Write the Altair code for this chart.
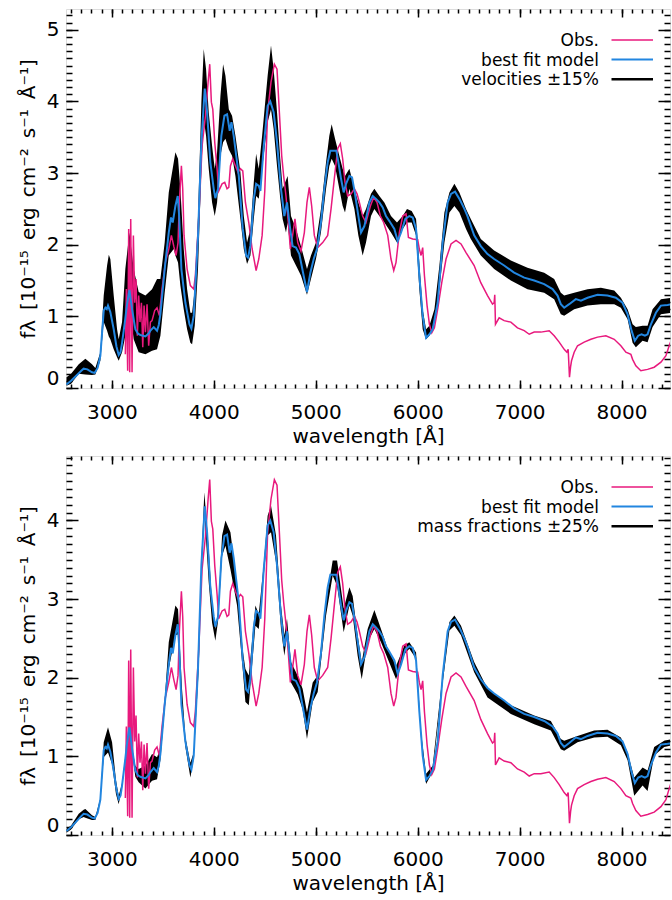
import altair as alt
import pandas as pd

FONT = "DejaVu Sans"
PINK = "#e8197d"
BLUE = "#2286e0"

# ---------------- data ----------------
MODEL_WL = [2555, 2600, 2650, 2700, 2723, 2760, 2805, 2831, 2860, 2887, 2920, 2936, 2950, 2962, 2985,
            3018, 3045, 3067, 3085, 3100, 3130, 3149, 3172, 3198, 3230, 3255, 3280, 3329, 3360, 3378,
            3411, 3443, 3460, 3476, 3518, 3558, 3580, 3597, 3623, 3646, 3660, 3682, 3721, 3761, 3780,
            3803, 3845, 3878, 3911, 3934, 3966, 3999, 4015, 4042, 4074, 4104, 4130, 4156, 4173, 4195,
            4245, 4284, 4317, 4336, 4359, 4392, 4415, 4441, 4457, 4490, 4528, 4554, 4587, 4620, 4659,
            4692, 4718, 4741, 4773, 4806, 4839, 4881, 4914, 4947, 4980, 5012, 5051, 5084, 5117, 5143,
            5176, 5202, 5222, 5248, 5274, 5297, 5330, 5356, 5385, 5418, 5444, 5477, 5526, 5559, 5591,
            5624, 5657, 5689, 5722, 5771, 5804, 5837, 5879, 5918, 5951, 5984, 6016, 6049, 6082, 6115,
            6147, 6196, 6245, 6294, 6327, 6366, 6409, 6458, 6488, 6554, 6619, 6685, 6750, 6848, 6946,
            7045, 7143, 7241, 7323, 7372, 7404, 7437, 7486, 7551, 7601, 7666, 7764, 7862, 7944, 8009,
            8059, 8098, 8130, 8163, 8196, 8229, 8255, 8288, 8337, 8386, 8451, 8500]
MODEL_F = [0.05, 0.10, 0.17, 0.24, 0.27, 0.26, 0.22, 0.21, 0.28, 0.45, 1.08, 1.12, 1.10, 1.15, 1.06,
           0.82, 0.58, 0.46, 0.50, 0.63, 0.95, 1.17, 1.37, 1.10, 0.82, 0.76, 0.74, 0.72, 0.76, 0.80,
           0.85, 0.80, 0.88, 1.03, 1.66, 2.17, 2.38, 2.31, 2.54, 2.68, 2.40, 1.66, 1.19, 0.89, 0.83,
           1.01, 2.12, 3.43, 4.18, 3.85, 3.15, 2.78, 2.65, 2.78, 3.52, 3.80, 3.82, 3.59, 3.71, 3.52,
           2.96, 2.22, 1.85, 1.82, 1.99, 2.64, 2.85, 2.82, 2.75, 3.38, 3.94, 4.00, 3.85, 3.43, 2.78,
           2.40, 2.59, 2.31, 1.98, 1.96, 1.87, 1.57, 1.34, 1.61, 1.80, 1.94, 2.31, 2.78, 3.15, 3.31,
           3.31, 3.31, 3.15, 2.92, 2.73, 2.85, 2.96, 2.94, 2.71, 2.40, 2.17, 2.26, 2.59, 2.68, 2.64,
           2.59, 2.52, 2.40, 2.33, 2.22, 2.05, 2.17, 2.36, 2.40, 2.38, 2.22, 1.57, 1.01, 0.70, 0.75,
           0.82, 1.19, 2.03, 2.59, 2.71, 2.74, 2.64, 2.50, 2.40, 2.13, 1.98, 1.87, 1.80, 1.71, 1.61,
           1.54, 1.50, 1.45, 1.38, 1.29, 1.17, 1.12, 1.17, 1.24, 1.22, 1.26, 1.30, 1.29, 1.26, 1.19,
           1.03, 0.80, 0.66, 0.73, 0.75, 0.73, 0.75, 0.89, 1.05, 1.15, 1.16, 1.17]

OBS_WL = [3132, 3142, 3155, 3165, 3175, 3185, 3198, 3211, 3224, 3237, 3250, 3263, 3276, 3290, 3303,
          3316, 3329, 3345, 3361, 3378, 3394, 3420, 3443, 3466, 3492, 3525, 3558, 3584, 3607, 3630,
          3649, 3662, 3682, 3695, 3708, 3738, 3770, 3803, 3819, 3852, 3885, 3918, 3944, 3960, 3976,
          3990, 4009, 4032, 4048, 4081, 4107, 4130, 4147, 4163, 4186, 4212, 4238, 4261, 4284, 4310,
          4343, 4376, 4415, 4441, 4474, 4500, 4528, 4561, 4594, 4620, 4643, 4666, 4685, 4708, 4731,
          4751, 4773, 4796, 4823, 4855, 4888, 4914, 4937, 4960, 4986, 5019, 5068, 5117, 5150, 5182,
          5215, 5241, 5264, 5287, 5313, 5346, 5379, 5405, 5428, 5460, 5493, 5536, 5568, 5601, 5634,
          5666, 5706, 5738, 5765, 5787, 5820, 5853, 5886, 5909, 5951, 6000, 6016, 6033, 6049, 6066,
          6092, 6115, 6138, 6164, 6196, 6236, 6278, 6327, 6376, 6425, 6474, 6554, 6619, 6685, 6734,
          6750, 6756, 6763, 6799, 6848, 6914, 6979, 7045, 7094, 7143, 7208, 7290, 7339, 7388, 7437,
          7463, 7476, 7489, 7500, 7509, 7535, 7568, 7633, 7699, 7764, 7846, 7928, 7993, 8042, 8091,
          8108, 8140, 8189, 8255, 8320, 8386, 8435, 8467, 8500]
OBS_F = [0.47, 1.38, 0.24, 2.22, 0.22, 2.36, 0.22, 2.13, 1.19, 1.52, 0.73, 1.29, 0.92, 1.19, 0.57,
         1.15, 0.78, 1.17, 0.59, 0.92, 0.94, 1.08, 1.12, 1.01, 1.38, 1.75, 1.94, 2.13, 1.98, 1.85,
         2.03, 2.59, 3.10, 2.78, 2.13, 1.66, 1.43, 1.38, 1.57, 2.36, 3.38, 3.80, 4.27, 4.52, 3.99,
         3.89, 3.43, 3.06, 2.75, 2.85, 2.87, 2.78, 2.80, 3.10, 3.20, 3.10, 3.01, 3.06, 3.03, 2.59,
         2.31, 1.94, 1.64, 1.80, 2.13, 2.75, 3.85, 4.27, 4.52, 4.45, 3.85, 3.24, 2.96, 2.68, 2.31,
         1.94, 2.13, 2.36, 2.03, 1.91, 2.17, 2.59, 2.80, 2.54, 2.13, 1.96, 2.03, 2.13, 2.50, 2.92,
         3.34, 3.41, 3.20, 2.87, 2.68, 2.71, 2.78, 2.71, 2.59, 2.40, 2.31, 2.54, 2.66, 2.59, 2.40,
         2.31, 2.13, 1.80, 1.64, 1.75, 2.17, 2.40, 2.43, 2.10, 2.08, 2.07, 1.94, 1.85, 1.96, 1.57,
         1.15, 0.89, 0.77, 0.84, 1.10, 1.47, 1.80, 2.01, 2.06, 2.01, 1.89, 1.71, 1.47, 1.29, 1.17,
         1.19, 1.30, 0.89, 0.98, 0.94, 0.92, 0.84, 0.80, 0.75, 0.78, 0.78, 0.80, 0.73, 0.64, 0.54,
         0.50, 0.54, 0.15, 0.30, 0.38, 0.50, 0.59, 0.64, 0.68, 0.71, 0.73, 0.68, 0.59, 0.50, 0.47,
         0.40, 0.31, 0.24, 0.26, 0.29, 0.36, 0.45, 0.59, 0.72]

# envelope: velocities +-15%
VEL_WL = [2555, 2600, 2675, 2740, 2805, 2838, 2887, 2920, 2953, 2970, 2985, 3018, 3051, 3067, 3100,
          3132, 3172, 3214, 3263, 3329, 3394, 3443, 3476, 3518, 3558, 3607, 3623, 3649, 3672, 3705,
          3738, 3770, 3787, 3813, 3845, 3878, 3901, 3924, 3950, 3983, 4009, 4032, 4065, 4091, 4114,
          4147, 4179, 4212, 4261, 4294, 4326, 4359, 4392, 4415, 4441, 4474, 4528, 4561, 4587, 4620,
          4652, 4675, 4708, 4724, 4757, 4806, 4855, 4914, 4953, 5002, 5051, 5101, 5133, 5156, 5189,
          5231, 5264, 5287, 5330, 5379, 5418, 5460, 5493, 5542, 5575, 5624, 5673, 5738, 5797, 5853,
          5895, 5941, 5984, 6016, 6049, 6082, 6115, 6164, 6213, 6262, 6311, 6360, 6409, 6474, 6521,
          6619, 6750, 6914, 7077, 7241, 7339, 7404, 7437, 7535, 7666, 7797, 7928, 7993, 8059, 8108,
          8140, 8206, 8255, 8304, 8386, 8500]
VEL_HI = [0.15, 0.20, 0.33, 0.41, 0.33, 0.28, 0.50, 1.29, 1.71, 1.86, 1.80, 1.29, 0.82, 0.68, 0.92,
          1.66, 2.17, 1.66, 1.34, 1.29, 1.38, 1.52, 1.52, 2.03, 2.73, 3.15, 3.29, 3.20, 2.78, 1.94,
          1.38, 1.05, 1.05, 1.38, 2.40, 3.99, 4.73, 4.45, 3.85, 3.38, 3.06, 3.29, 4.08, 4.52, 4.36,
          3.89, 3.80, 3.52, 3.01, 2.40, 2.03, 2.22, 2.87, 3.27, 3.06, 3.52, 4.36, 4.78, 4.45, 3.85,
          3.20, 2.78, 2.90, 2.96, 2.40, 2.22, 1.98, 1.66, 1.85, 2.03, 2.50, 3.15, 3.52, 3.68, 3.48,
          3.24, 3.06, 2.96, 3.06, 2.78, 2.59, 2.40, 2.50, 2.71, 2.78, 2.68, 2.59, 2.40, 2.31, 2.40,
          2.50, 2.47, 2.36, 1.75, 1.10, 0.82, 0.87, 1.10, 1.71, 2.45, 2.73, 2.85, 2.73, 2.50, 2.36,
          2.08, 1.92, 1.78, 1.68, 1.61, 1.52, 1.33, 1.29, 1.33, 1.38, 1.40, 1.36, 1.26, 1.10, 0.89,
          0.85, 0.87, 0.87, 1.10, 1.24, 1.26]
VEL_LO = [0.03, 0.06, 0.20, 0.19, 0.18, 0.19, 0.38, 0.92, 0.80, 0.72, 0.68, 0.54, 0.43, 0.38, 0.50,
          0.73, 1.15, 0.68, 0.50, 0.47, 0.52, 0.54, 0.73, 1.33, 1.85, 1.94, 1.85, 1.75, 1.43, 1.10,
          0.82, 0.63, 0.61, 0.87, 1.66, 3.06, 3.75, 3.52, 3.06, 2.59, 2.40, 2.59, 3.24, 3.43, 3.48,
          3.33, 3.24, 2.96, 2.36, 1.94, 1.73, 1.85, 2.36, 2.68, 2.64, 3.06, 3.71, 3.89, 3.62, 3.10,
          2.64, 2.36, 2.17, 2.31, 1.85, 1.71, 1.57, 1.30, 1.52, 1.80, 2.17, 2.78, 3.10, 3.20, 3.10,
          2.78, 2.54, 2.45, 2.78, 2.50, 2.13, 1.85, 2.03, 2.40, 2.50, 2.40, 2.31, 2.17, 2.03, 2.22,
          2.31, 2.31, 2.13, 1.38, 0.82, 0.68, 0.73, 0.92, 1.38, 2.03, 2.45, 2.54, 2.45, 2.22, 2.08,
          1.85, 1.66, 1.50, 1.38, 1.33, 1.24, 1.03, 1.01, 1.10, 1.15, 1.17, 1.17, 1.12, 0.96, 0.63,
          0.57, 0.66, 0.64, 0.85, 1.03, 1.05]

# envelope: mass fractions +-25%
MASS_WL = [2555, 2600, 2675, 2723, 2740, 2805, 2838, 2887, 2920, 2962, 3002, 3040, 3067, 3100, 3149,
           3172, 3198, 3230, 3263, 3329, 3394, 3443, 3476, 3518, 3558, 3623, 3649, 3688, 3721, 3770,
           3803, 3852, 3878, 3907, 3950, 3983, 4015, 4042, 4081, 4114, 4163, 4228, 4284, 4310, 4343,
           4408, 4441, 4490, 4528, 4561, 4610, 4659, 4692, 4718, 4757, 4822, 4871, 4914, 4970, 5019,
           5101, 5166, 5209, 5274, 5330, 5362, 5411, 5451, 5509, 5575, 5640, 5706, 5788, 5869, 5918,
           5984, 6033, 6082, 6147, 6229, 6311, 6360, 6425, 6554, 6685, 6914, 7143, 7306, 7404, 7437,
           7568, 7731, 7862, 7993, 8059, 8124, 8206, 8255, 8320, 8418, 8500]
MASS_HI = [0.08, 0.12, 0.27, 0.32, 0.33, 0.25, 0.23, 0.47, 1.18, 1.37, 1.18, 0.70, 0.50, 0.66, 1.19,
           1.39, 1.12, 0.88, 0.84, 0.88, 1.03, 0.99, 1.10, 1.72, 2.45, 2.92, 2.87, 1.86, 1.25, 0.92,
           1.05, 2.28, 3.50, 4.36, 3.64, 2.95, 2.62, 2.85, 3.81, 4.00, 3.85, 3.17, 2.35, 2.11, 2.03,
           2.92, 2.81, 3.45, 4.06, 4.19, 3.81, 2.92, 2.54, 2.75, 2.20, 2.03, 1.86, 1.56, 1.94, 2.03,
           2.96, 3.49, 3.49, 2.88, 3.15, 3.04, 2.54, 2.20, 2.62, 2.86, 2.62, 2.37, 2.15, 2.41, 2.45,
           2.32, 1.31, 0.78, 0.88, 1.86, 2.71, 2.79, 2.66, 2.20, 1.86, 1.65, 1.52, 1.45, 1.22, 1.20,
           1.26, 1.33, 1.34, 1.24, 1.05, 0.73, 0.86, 0.82, 1.12, 1.20, 1.22]
MASS_LO = [0.03, 0.07, 0.20, 0.23, 0.22, 0.19, 0.19, 0.43, 0.99, 1.05, 0.90, 0.52, 0.39, 0.60, 1.15,
           1.35, 1.06, 0.74, 0.67, 0.59, 0.69, 0.71, 0.95, 1.60, 2.11, 2.54, 2.55, 1.56, 1.12, 0.73,
           0.97, 2.11, 3.35, 4.10, 3.21, 2.70, 2.47, 2.72, 3.55, 3.68, 3.38, 2.92, 2.10, 1.69, 1.65,
           2.66, 2.62, 3.30, 3.81, 3.85, 3.47, 2.62, 2.28, 2.54, 1.94, 1.79, 1.60, 1.22, 1.69, 1.82,
           2.79, 3.30, 3.17, 2.58, 2.92, 2.79, 2.28, 1.98, 2.45, 2.62, 2.45, 2.24, 1.98, 2.30, 2.37,
           2.24, 1.22, 0.65, 0.80, 1.77, 2.60, 2.66, 2.54, 2.07, 1.75, 1.54, 1.41, 1.33, 1.09, 1.07,
           1.18, 1.24, 1.25, 1.14, 0.95, 0.50, 0.63, 0.56, 1.01, 1.12, 1.14]

X_MAJOR = [3000, 4000, 5000, 6000, 7000, 8000]
X_MINOR = list(range(2600, 8500, 100))
LEGEND_TOP = ["Obs.", "best fit model", "velocities \u00b115%"]
LEGEND_BOTTOM = ["Obs.", "best fit model", "mass fractions \u00b125%"]
LEGEND_COLORS = [PINK, BLUE, "black"]
LEGEND_WIDTHS = [1.5, 2, 2.5]

Y_TITLE = "f\u03bb\u2002[10\u207b\u00b9\u2075\u2002erg\u2002cm\u207b\u00b2\u2002s\u207b\u00b9\u2002\u00c5\u207b\u00b9]"

XDOM = [2550, 8475]
W = 604
H = 379


def xaxis(orient, values, size, labels=False, title=None):
    kw = dict(orient=orient, values=values, tickSize=size, offset=-size, labels=labels,
              domain=False, grid=False, title=title, tickColor="black", tickWidth=1.5)
    if labels:
        kw.update(format="d", labelPadding=14, titlePadding=4, labelFont=FONT, labelFontSize=20,
                  titleFont=FONT, titleFontSize=20, titleFontWeight="normal",
                  labelColor="black", titleColor="black")
    return alt.Axis(**kw)


def yaxis(orient, values, size, labels=False, title=None):
    kw = dict(orient=orient, values=values, tickSize=size, offset=-size, labels=labels,
              domain=False, grid=False, title=title, tickColor="black", tickWidth=1.5)
    if labels:
        kw.update(format="d", labelPadding=7, titlePadding=8, labelFont=FONT, labelFontSize=20,
                  labelFlush=True, titleFont=FONT, titleFontSize=20, titleFontWeight="normal",
                  labelColor="black", titleColor="black")
    return alt.Axis(**kw)


def panel(band_wl, band_hi, band_lo, ymax, legend_labels):
    xs = alt.Scale(domain=XDOM, nice=False, zero=False)
    ys = alt.Scale(domain=[0, ymax], nice=False, zero=False)
    y_major = list(range(0, int(ymax) + 1))
    y_minor = [round(i * 0.1, 1) for i in range(0, int(ymax * 10) + 1)]

    band_df = pd.DataFrame({"wl": band_wl, "hi": band_hi, "lo": band_lo})
    obs_df = pd.DataFrame({"wl": OBS_WL, "f": OBS_F})
    mod_df = pd.DataFrame({"wl": MODEL_WL, "f": MODEL_F})

    band = alt.Chart(band_df).mark_area(color="black", clip=True, interpolate="linear").encode(
        x=alt.X("wl:Q", scale=xs, axis=xaxis("bottom", X_MAJOR, 8, True, "wavelength [\u00c5]")),
        y=alt.Y("hi:Q", scale=ys, axis=yaxis("left", y_major, 12, True, Y_TITLE)),
        y2="lo:Q",
    )
    obs = alt.Chart(obs_df).mark_line(color=PINK, strokeWidth=1.5, clip=True).encode(
        x=alt.X("wl:Q", scale=xs, axis=xaxis("bottom", X_MINOR, 4)),
        y=alt.Y("f:Q", scale=ys, axis=yaxis("left", y_minor, 6)),
    )
    model = alt.Chart(mod_df).mark_line(color=BLUE, strokeWidth=2, clip=True).encode(
        x=alt.X("wl:Q", scale=xs, axis=xaxis("top", X_MAJOR, 8)),
        y=alt.Y("f:Q", scale=ys, axis=yaxis("right", y_major, 12)),
    )
    ghost = alt.Chart(mod_df).mark_line(strokeOpacity=0, clip=True).encode(
        x=alt.X("wl:Q", scale=xs, axis=xaxis("top", X_MINOR, 4)),
        y=alt.Y("f:Q", scale=ys, axis=yaxis("right", y_minor, 6)),
    )

    legend_layers = []
    for i, (lab, col, lw) in enumerate(zip(legend_labels, LEGEND_COLORS, LEGEND_WIDTHS)):
        one = pd.DataFrame({"label": [lab]})
        legend_layers.append(
            alt.Chart(one).mark_text(align="right", baseline="middle", font=FONT, fontSize=17,
                                     color="black").encode(
                x=alt.value(533), y=alt.value(32.3 + 19.2 * i), text="label:N")
        )
        legend_layers.append(
            alt.Chart(one).mark_rule(color=col, strokeWidth=lw).encode(
                x=alt.value(545.5), x2=alt.value(587), y=alt.value(31 + 19.6 * i))
        )

    return alt.layer(band, obs, model, ghost, *legend_layers).resolve_axis(
        x="independent", y="independent").properties(width=W, height=H)


top = panel(VEL_WL, VEL_HI, VEL_LO, 5.29, LEGEND_TOP)
bottom = panel(MASS_WL, MASS_HI, MASS_LO, 4.82, LEGEND_BOTTOM)

chart = alt.vconcat(top, bottom, spacing=7).properties(
    padding={"left": 17, "top": 7, "right": 0, "bottom": 0}
).configure_view(stroke="black", strokeWidth=2).configure(background="white")

chart.save("out.html", embed_options={"renderer": "svg", "actions": False})
